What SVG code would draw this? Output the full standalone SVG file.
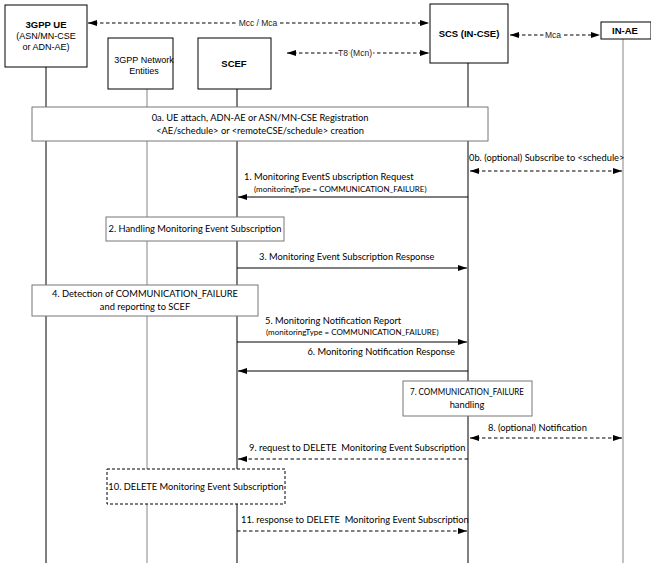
<svg xmlns="http://www.w3.org/2000/svg" width="651" height="568" viewBox="0 0 651 568">
<style>
  .hdr{fill:#fff;stroke:#000;stroke-width:1}
  .bx{fill:#fff;stroke:#777;stroke-width:1}
  .bxd{fill:#fff;stroke:#000;stroke-width:1;stroke-dasharray:3,2}
  .ll{stroke:#000;stroke-width:1}
  .llg{stroke:#999;stroke-width:1.2}
  .h{font-family:"Liberation Sans",Arial,sans-serif;font-size:9px;fill:#000;text-anchor:middle}
  .hb{font-family:"Liberation Sans",Arial,sans-serif;font-size:9.5px;font-weight:bold;fill:#000;text-anchor:middle}
  .t{font-family:Lato,"Open Sans",sans-serif;font-size:9.3px;fill:#000}
  .ts{font-family:Lato,"Open Sans",sans-serif;font-size:8px;fill:#000}
  .c{text-anchor:middle}
  .lbl{font-family:"Liberation Sans",Arial,sans-serif;font-size:8.5px;fill:#222;text-anchor:middle;stroke:#fff;stroke-width:3;paint-order:stroke}
  .m{stroke:#000;stroke-width:1;fill:none}
  .d{stroke-dasharray:3.5,2.5}
  .a{marker-end:url(#ah)}
  .ab{marker-start:url(#ah);marker-end:url(#ah)}
</style>
<defs>
  <marker id="ah" markerUnits="userSpaceOnUse" markerWidth="10" markerHeight="8" refX="9" refY="3" orient="auto-start-reverse">
    <path d="M0,0 L9,3 L0,6 z" fill="#000"/>
  </marker>
</defs>
<rect width="651" height="568" fill="#fff"/>

<g id="ue">
  <line class="ll" x1="46" y1="67" x2="46" y2="563"/>
  <rect class="hdr" x="5" y="5" width="82" height="62"/>
  <text class="hb" x="46" y="28">3GPP UE</text>
  <text class="h" x="46" y="39">(ASN/MN-CSE</text>
  <text class="h" x="46" y="50">or ADN-AE)</text>
</g>
<g id="network">
  <line class="llg" x1="147" y1="89" x2="147" y2="563"/>
  <rect class="hdr" x="108" y="38" width="65" height="51"/>
  <text class="h" x="144" y="63">3GPP Network</text>
  <text class="h" x="144" y="74">Entities</text>
</g>
<g id="scef">
  <line class="ll" x1="237" y1="89" x2="237" y2="563"/>
  <rect class="hdr" x="198" y="38" width="73" height="51"/>
  <text class="hb" x="234" y="67">SCEF</text>
</g>
<g id="scs">
  <line class="ll" x1="468" y1="63" x2="468" y2="563"/>
  <rect class="hdr" x="430" y="4" width="78" height="59"/>
  <text class="hb" x="469" y="37">SCS (IN-CSE)</text>
</g>
<g id="inae">
  <line class="llg" x1="623" y1="39" x2="623" y2="563"/>
  <rect class="hdr" x="601" y="22" width="50" height="17"/>
  <text class="hb" x="625" y="34">IN-AE</text>
</g>

<g id="step0a">
  <rect class="bx" x="32" y="107" width="456" height="34"/>
  <text class="t c" x="260" y="121">0a. UE attach, ADN-AE or ASN/MN-CSE Registration</text>
  <text class="t c" x="260" y="134">&lt;AE/schedule&gt; or &lt;remoteCSE/schedule&gt; creation</text>
</g>
<g id="step2">
  <rect class="bx" x="106" y="217" width="178" height="24"/>
  <text class="t c" x="195" y="232">2. Handling Monitoring Event Subscription</text>
</g>
<g id="step4">
  <rect class="bx" x="32" y="285" width="226" height="31"/>
  <text class="t c" x="145" y="297">4. Detection of COMMUNICATION_FAILURE</text>
  <text class="t c" x="145" y="310">and reporting to SCEF</text>
</g>
<g id="step7">
  <rect class="bx" x="403" y="381" width="129" height="35"/>
  <text class="t c" x="467" y="395" textLength="114" lengthAdjust="spacingAndGlyphs">7. COMMUNICATION_FAILURE</text>
  <text class="t c" x="467" y="408">handling</text>
</g>
<g id="step10">
  <rect class="bxd" x="107" y="469" width="178" height="35"/>
  <text class="t c" x="196" y="490">10. DELETE Monitoring Event Subscription</text>
</g>

<g id="connectors">
  <line class="m d ab" x1="88" y1="23" x2="429" y2="23"/>
  <text class="lbl" x="258" y="26">Mcc / Mca</text>
  <line class="m d ab" x1="287" y1="53" x2="429" y2="53"/>
  <text class="lbl" x="355" y="56">T8 (Mcn)</text>
  <line class="m d ab" x1="510" y1="35" x2="600" y2="35"/>
  <text class="lbl" x="553" y="38">Mca</text>

  <text class="t" x="469" y="161">0b. (optional) Subscribe to &lt;schedule&gt;</text>
  <line class="m d ab" x1="470" y1="171" x2="622" y2="171"/>

  <text class="t" x="244" y="180">1. Monitoring EventS ubscription Request</text>
  <text class="ts" x="254" y="192">(monitoringType = COMMUNICATION_FAILURE)</text>
  <line class="m a" x1="468" y1="197" x2="238" y2="197"/>

  <text class="t" x="259" y="260">3. Monitoring Event Subscription Response</text>
  <line class="m a" x1="237" y1="268" x2="467" y2="268"/>

  <text class="t" x="265" y="324">5. Monitoring Notification Report</text>
  <text class="ts" x="266" y="335">(monitoringType = COMMUNICATION_FAILURE)</text>
  <line class="m a" x1="237" y1="342" x2="467" y2="342"/>

  <text class="t" x="455" y="355" text-anchor="end">6. Monitoring Notification Response</text>
  <line class="m a" x1="468" y1="371" x2="238" y2="371"/>

  <text class="t" x="488" y="431">8. (optional) Notification</text>
  <line class="m d ab" x1="470" y1="438" x2="622" y2="438"/>

  <text class="t" x="249" y="451" xml:space="preserve">9. request to DELETE  Monitoring Event Subscription</text>
  <line class="m d a" x1="468" y1="459" x2="238" y2="459"/>

  <text class="t" x="241" y="523" xml:space="preserve">11. response to DELETE  Monitoring Event Subscription</text>
  <line class="m d a" x1="237" y1="531" x2="467" y2="531"/>
</g>
</svg>
